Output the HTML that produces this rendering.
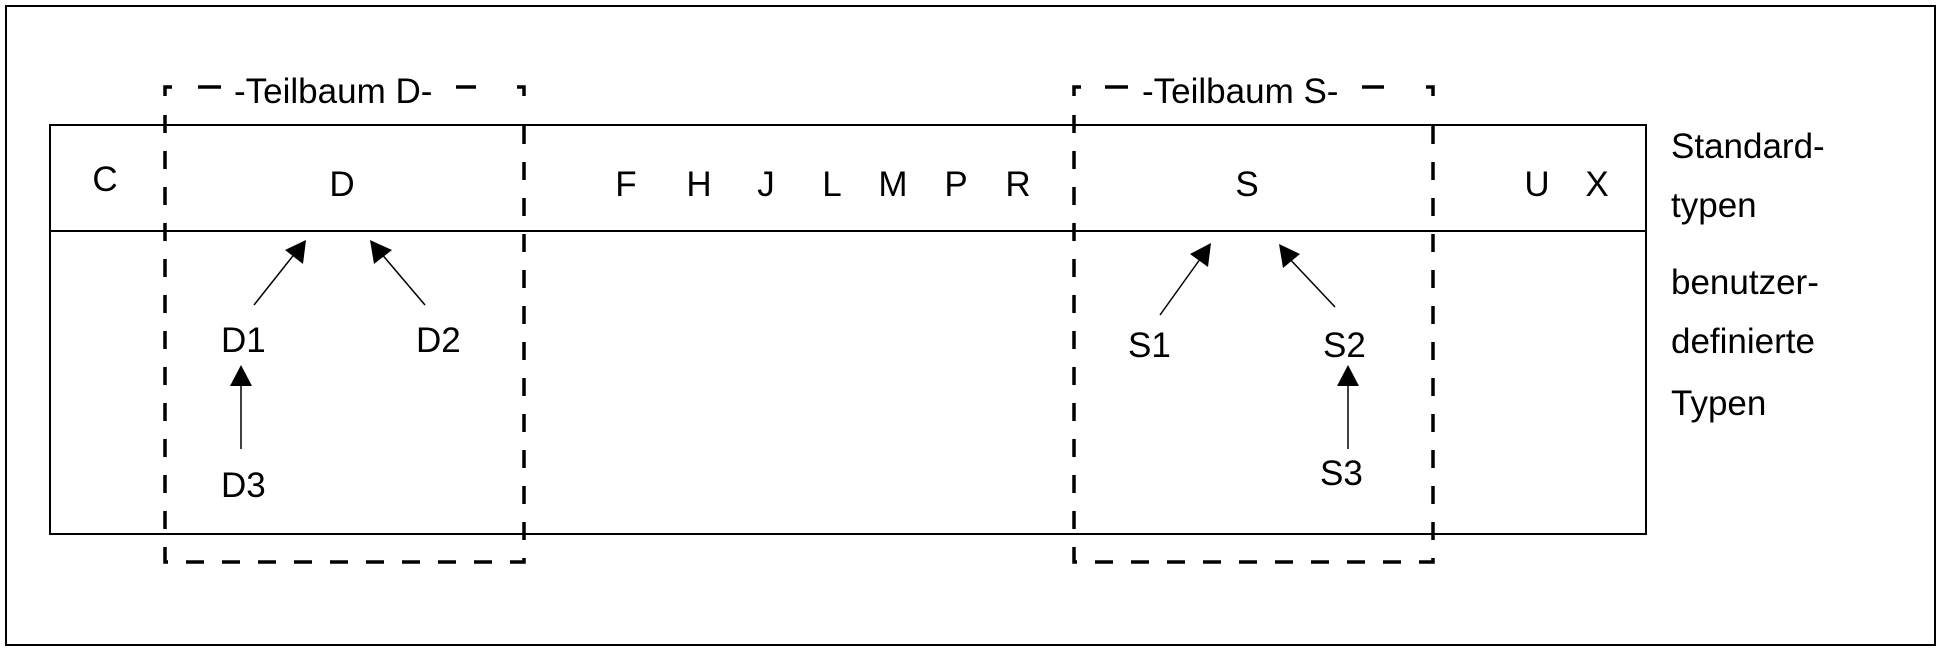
<!DOCTYPE html>
<html><head><meta charset="utf-8"><style>
html,body{margin:0;padding:0;background:#fff;}
svg{display:block;}
text{font-family:"Liberation Sans",Arial,sans-serif;font-size:35px;fill:#000;}
</style></head><body>
<svg width="1941" height="651" viewBox="0 0 1941 651" xmlns="http://www.w3.org/2000/svg">
<rect x="6" y="6" width="1929" height="639" fill="none" stroke="#000" stroke-width="2"/>
<rect x="50" y="125" width="1596" height="409" fill="none" stroke="#000" stroke-width="2"/>
<line x1="50" y1="231" x2="1646" y2="231" stroke="#000" stroke-width="2"/>

<g stroke="#000" stroke-width="3.5" fill="none">
<path d="M165 96 V87 H172"/>
<line x1="198" y1="87" x2="221" y2="87"/>
<line x1="456" y1="87" x2="476" y2="87"/>
<path d="M517 87 H524 V96"/>
<path d="M1074 96 V87 H1081"/>
<line x1="1105" y1="87" x2="1128" y2="87"/>
<line x1="1362" y1="87" x2="1384" y2="87"/>
<path d="M1426 87 H1433 V96"/>
</g>
<g stroke="#000" stroke-width="3.5" fill="none" stroke-dasharray="18,18">
<path d="M165 115 V562 H524 V115"/>
<path d="M1074 115 V562 H1433 V115"/>
</g>

<text x="234" y="103">-Teilbaum D-</text>
<text x="1142" y="103">-Teilbaum S-</text>

<g text-anchor="middle">
<text x="105" y="191">C</text>
<text x="342" y="196">D</text>
<text x="626" y="196">F</text>
<text x="699" y="196">H</text>
<text x="766" y="196">J</text>
<text x="832" y="196">L</text>
<text x="893" y="196">M</text>
<text x="956" y="196">P</text>
<text x="1018" y="196">R</text>
<text x="1247" y="196">S</text>
<text x="1537" y="196">U</text>
<text x="1597" y="196">X</text>
</g>

<text x="1671" y="158">Standard-</text>
<text x="1671" y="217">typen</text>
<text x="1671" y="294">benutzer-</text>
<text x="1671" y="353">definierte</text>
<text x="1671" y="415">Typen</text>

<text x="221" y="352">D1</text>
<text x="416" y="352">D2</text>
<text x="221" y="497">D3</text>
<text x="1128" y="357">S1</text>
<text x="1323" y="357">S2</text>
<text x="1320" y="485">S3</text>

<g stroke="#000" stroke-width="1.5">
<line x1="254" y1="305" x2="296" y2="252"/>
<line x1="425" y1="305" x2="380" y2="252"/>
<line x1="241" y1="449" x2="241" y2="380"/>
<line x1="1160" y1="315" x2="1203" y2="255"/>
<line x1="1335" y1="307" x2="1287" y2="256"/>
<line x1="1348" y1="449" x2="1348" y2="380"/>
</g>
<g fill="#000">
<polygon points="306,240 303,264 285,250"/>
<polygon points="370,240 392,250 374,264"/>
<polygon points="241,365 252,386 230,386"/>
<polygon points="1211,243 1208,267 1190,254"/>
<polygon points="1279,244 1300,254 1283,268"/>
<polygon points="1348,365 1359,386 1337,386"/>
</g>
</svg>
</body></html>
